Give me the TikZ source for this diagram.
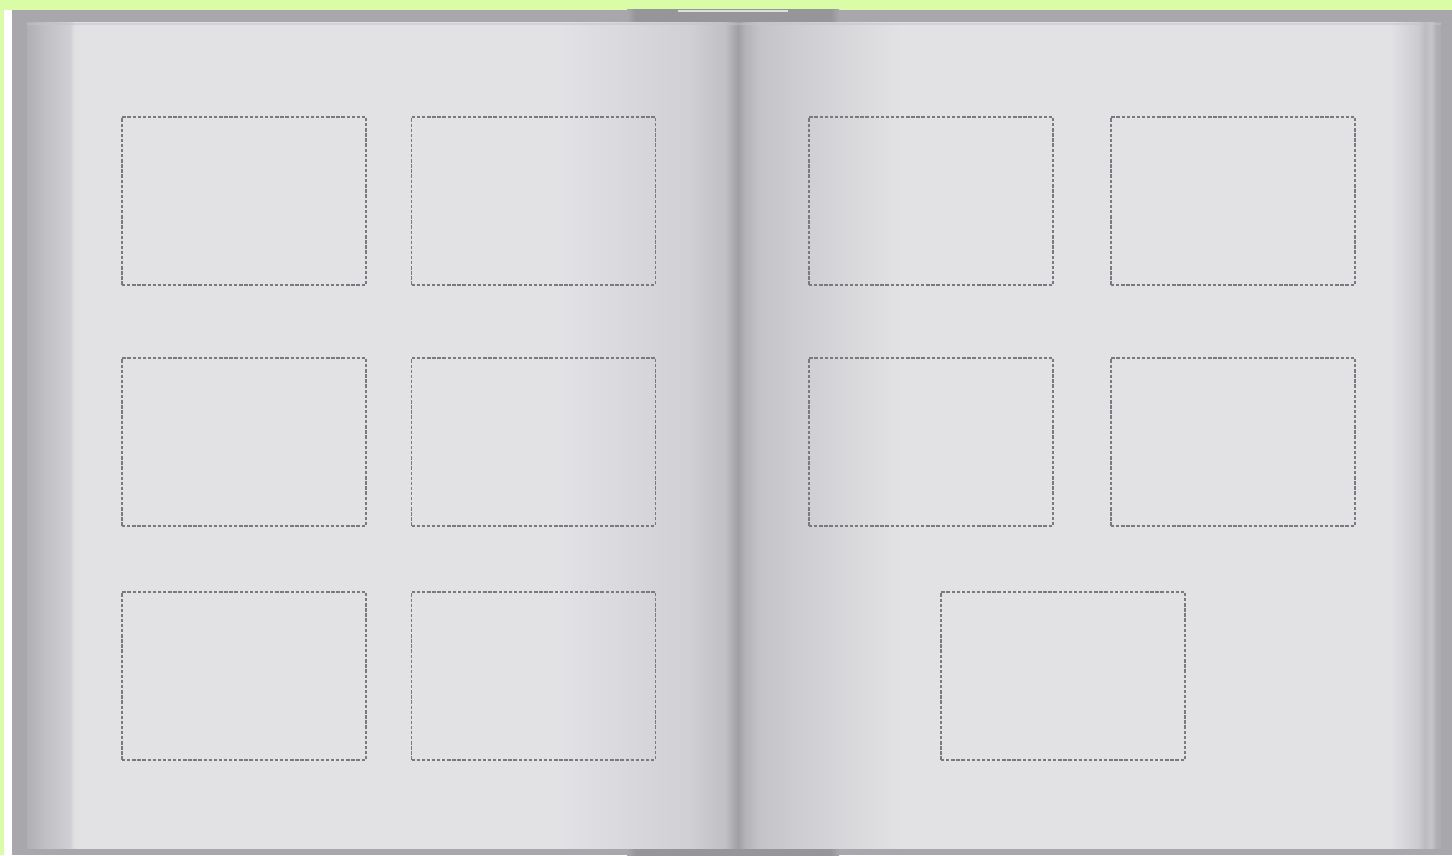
\documentclass[tikz,border=0pt]{standalone}
\usetikzlibrary{positioning}
\definecolor{bggreen}{RGB}{218,252,166}
\definecolor{cover}{RGB}{168,168,172}
\definecolor{spinedark}{RGB}{150,150,154}
\definecolor{spinelight}{RGB}{222,222,224}
\definecolor{dashc}{RGB}{122,122,126}
\definecolor{topline}{RGB}{196,196,200}
\pgfdeclarehorizontalshading{leftpage}{100bp}{%
rgb(0bp)=(.690,.690,.706); rgb(25bp)=(.690,.690,.706);
rgb(26.27bp)=(.753,.753,.769); rgb(28.02bp)=(.816,.816,.831);
rgb(28.31bp)=(.878,.878,.890); rgb(28.73bp)=(.886,.886,.898);
rgb(62.49bp)=(.886,.886,.898); rgb(71.62bp)=(.816,.816,.831);
rgb(74.09bp)=(.753,.753,.769); rgb(74.65bp)=(.675,.675,.690);
rgb(75bp)=(.627,.627,.643); rgb(100bp)=(.627,.627,.643)}
\pgfdeclarehorizontalshading{rightpage}{100bp}{%
rgb(0bp)=(.627,.627,.643); rgb(25bp)=(.627,.627,.643);
rgb(25.50bp)=(.706,.706,.722); rgb(26.56bp)=(.769,.769,.784);
rgb(29.41bp)=(.808,.808,.824); rgb(33.68bp)=(.855,.855,.867);
rgb(36.52bp)=(.886,.886,.898); rgb(71.37bp)=(.886,.886,.898);
rgb(73.36bp)=(.800,.800,.816); rgb(73.86bp)=(.737,.737,.753);
rgb(74.29bp)=(.776,.776,.792); rgb(74.64bp)=(.690,.690,.706);
rgb(75bp)=(.675,.675,.690); rgb(100bp)=(.675,.675,.690)}
\pgfdeclarehorizontalshading{spineband}{100bp}{%
color(0bp)=(cover); color(25bp)=(cover); color(27bp)=(spinedark);
color(73bp)=(spinedark); color(75bp)=(cover); color(100bp)=(cover)}
\tikzset{
  photo/.style={draw=dashc, line width=0.8pt, dash pattern=on 1.9pt off 1pt,
    minimum width=4.88cm, minimum height=3.36cm, inner sep=0pt, fill=none}
}
\begin{document}
\begin{tikzpicture}[x=0.02cm,y=-0.02cm]
\useasboundingbox (0,0) rectangle (1452,855);
% background
\fill[bggreen] (0,0) rectangle (1452,855);
\fill[white] (4,10) rectangle (12,855);
\fill[cover] (12,10) rectangle (1452,855);
% spine bands top and bottom
\shade[shading=spineband] (627,10) rectangle (839,23);
\fill[spinelight] (678,10) rectangle (788,12.5);
\shade[shading=spineband] (627,848) rectangle (839,855);
% pages
\shade[shading=leftpage] (27,23) rectangle (738,848);
\shade[shading=rightpage] (738,23) rectangle (1441,848);
% faint top shadow of pages
\fill[topline, opacity=0.5] (27,23) rectangle (1441,25);
% photo placeholders, left page
\node[photo] (l11) at (244,201) {};
\node[photo] (l12) at (533.5,201) {};
\node[photo] (l21) at (244,442) {};
\node[photo] (l22) at (533.5,442) {};
\node[photo] (l31) at (244,676) {};
\node[photo] (l32) at (533.5,676) {};
% photo placeholders, right page
\node[photo] (r11) at (931,201) {};
\node[photo] (r12) at (1233,201) {};
\node[photo] (r21) at (931,442) {};
\node[photo] (r22) at (1233,442) {};
\node[photo] (r31) at (1063,676) {};
\end{tikzpicture}
\end{document}
